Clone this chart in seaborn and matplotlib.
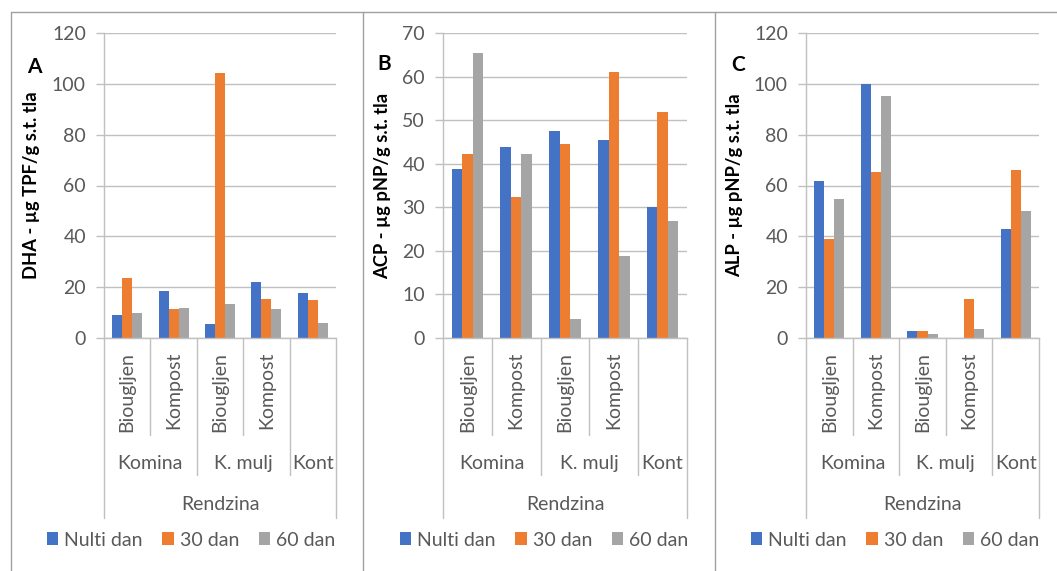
import matplotlib
matplotlib.use("Agg")
import matplotlib.pyplot as plt
import matplotlib.transforms as mtrans
from matplotlib.lines import Line2D
import seaborn as sns
import pandas as pd

W, H = 1057, 571

# ---------------- data ----------------
categories = ["Biougljen", "Kompost", "Biougljen", "Kompost", ""]
cat_groups = ["Komina", "Komina", "K. mulj", "K. mulj", "Kont"]
groups = ["Komina", "K. mulj", "Kont"]
supergroup = "Rendzina"
series = ["Nulti dan", "30 dan", "60 dan"]
colors = ["#4472C4", "#ED7D31", "#A5A5A5"]

dha_nulti = [9.0, 18.6, 5.6, 22.0, 17.6]
dha_30 = [23.7, 11.4, 104.4, 15.4, 14.8]
dha_60 = [9.8, 12.0, 13.5, 11.4, 5.9]

acp_nulti = [38.9, 43.9, 47.5, 45.4, 30.1]
acp_30 = [42.2, 32.4, 44.6, 61.0, 51.8]
acp_60 = [65.4, 42.2, 4.4, 18.9, 26.8]

alp_nulti = [61.6, 100.0, 2.9, 0.0, 43.0]
alp_30 = [39.1, 65.5, 2.9, 15.4, 66.1]
alp_60 = [54.5, 95.2, 1.4, 3.4, 50.1]

ylabels = ["DHA - µg TPF/g s.t. tla", "ACP - µg pNP/g s.t. tla", "ALP - µg pNP/g s.t. tla"]
letters = ["A", "B", "C"]
ymax = [120, 70, 120]
ystep = [20, 10, 20]
panel_values = [
    [dha_nulti, dha_30, dha_60],
    [acp_nulti, acp_30, acp_60],
    [alp_nulti, alp_30, alp_60],
]

# ---------------- style ----------------
sns.set_style("white")
plt.rcParams["font.family"] = ["Lato", "DejaVu Sans"]
TXT = "#595959"
GRID = "#C0C0C0"
FRAME = "#A0A0A0"
FS = 14

fig = plt.figure(figsize=(W / 100, H / 100), dpi=100)


def fx(px):
    return px / W


def fy(py):
    return 1 - py / H


TOP, BOT = 33, 338
layout = [
    dict(l=104, r=336, ylab_x=32, let=(34, 67), leg_x=191),
    dict(l=443, r=687, ylab_x=383, let=(384, 64), leg_x=544),
    dict(l=806, r=1039, ylab_x=735, let=(738, 65), leg_x=895),
]

keys = [f"{g}|{c}" for g, c in zip(cat_groups, categories)]

for i, lay in enumerate(layout):
    ax = fig.add_axes([fx(lay["l"]), fy(BOT), fx(lay["r"] - lay["l"]), (BOT - TOP) / H])
    rows = []
    for s, vals in zip(series, panel_values[i]):
        for k, v in zip(keys, vals):
            rows.append(dict(cat=k, serie=s, val=v))
    df = pd.DataFrame(rows)
    sns.barplot(data=df, x="cat", y="val", hue="serie", order=keys, hue_order=series,
                palette=colors, width=0.65, saturation=1, errorbar=None, ax=ax,
                linewidth=0, legend=True)
    ax.set_xlim(-0.5, len(keys) - 0.5)
    ax.set_ylim(0, ymax[i])
    ax.set_yticks(range(0, ymax[i] + 1, ystep[i]))
    ax.set_xticks([])
    ax.set_xlabel("")
    ax.set_ylabel("")
    ax.yaxis.grid(True, color=GRID, lw=1.0)
    ax.set_axisbelow(True)
    for side in ["top", "right"]:
        ax.spines[side].set_visible(False)
    for side in ["left", "bottom"]:
        ax.spines[side].set_color(GRID)
        ax.spines[side].set_linewidth(1.0)
    ax.tick_params(axis="y", length=6, width=1.0, color=GRID, pad=7,
                   labelsize=FS, labelcolor=TXT, left=True)

    # multi-level category axis
    tr = mtrans.blended_transform_factory(ax.transData, fig.transFigure)
    def vline(x, y0, y1):
        ax.add_line(Line2D([x, x], [fy(y0), fy(y1)], transform=tr, color=GRID,
                           lw=1.0, clip_on=False))
    for x in [0.5, 2.5]:
        vline(x, BOT, 435)
    for x in [1.5, 3.5]:
        vline(x, BOT, 475)
    vline(-0.5, BOT, 518)
    vline(len(keys) - 0.5, BOT, 518)
    for j, c in enumerate(categories):
        if c:
            ax.text(j, fy(352), c, transform=tr, rotation=90, ha="center", va="top",
                    fontsize=FS, color=TXT)
    gpos = {}
    for j, g in enumerate(cat_groups):
        gpos.setdefault(g, []).append(j)
    for g in groups:
        xs = gpos[g]
        ax.text(sum(xs) / len(xs), fy(469), g, transform=tr, ha="center", va="baseline",
                fontsize=FS, color=TXT)
    ax.text((len(keys) - 1) / 2, fy(510), supergroup, transform=tr, ha="center",
            va="baseline", fontsize=FS, color=TXT)

    # y label and panel letter
    fig.text(fx(lay["ylab_x"]), fy((TOP + BOT) / 2), ylabels[i], rotation=90,
             ha="center", va="center", fontsize=13.2, fontweight="bold", color="black")
    fig.text(fx(lay["let"][0]), fy(lay["let"][1]), letters[i], ha="center", va="center",
             fontsize=15, fontweight="bold", color="black")

    sns.move_legend(ax, loc="center", bbox_to_anchor=(fx(lay["leg_x"]), fy(540)),
                    bbox_transform=fig.transFigure, ncol=3, frameon=False, title=None,
                    handlelength=0.6, handleheight=0.6, handletextpad=0.3,
                    columnspacing=1.0, fontsize=FS, labelcolor=TXT, borderpad=0,
                    borderaxespad=0)

# chart frames
fig.add_artist(Line2D([fx(11), 1], [fy(12), fy(12)], color=FRAME, lw=1.0))
for x in [11, 363, 715]:
    fig.add_artist(Line2D([fx(x), fx(x)], [fy(12), 0], color=FRAME, lw=1.0))

fig.savefig("out.png", dpi=100)
